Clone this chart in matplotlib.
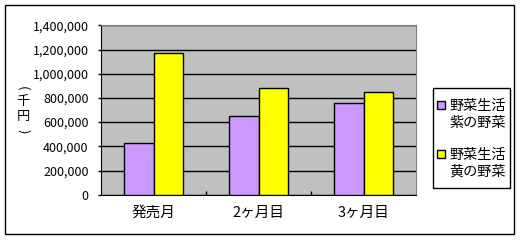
import matplotlib
matplotlib.use("Agg")
import matplotlib.pyplot as plt
import numpy as np
from matplotlib.patches import Rectangle

plt.rcParams['font.family'] = ['Noto Sans CJK JP', 'DejaVu Sans']

# Chart data
categories = ['発売月', '2ヶ月目', '3ヶ月目']
series_names = ['野菜生活\n紫の野菜', '野菜生活\n黄の野菜']
purple_values = [430000, 650000, 755000]
yellow_values = [1170000, 880000, 850000]
y_ticks = [0, 200000, 400000, 600000, 800000, 1000000, 1200000, 1400000]

colors = ['#CC99FF', '#FFFF00']

W, H = 521, 240
fig = plt.figure(figsize=(W / 100, H / 100), dpi=100)

# Outer chart border
fig.patches.append(Rectangle((5 / W, 1 - 234 / H), 509 / W, 229 / H,
                             transform=fig.transFigure, fill=False,
                             edgecolor='black', linewidth=1))

# Plot area in pixel coordinates
left, right, top, bottom = 101, 416, 25.3, 194.7
ax = fig.add_axes([left / W, 1 - bottom / H, (right - left) / W, (bottom - top) / H])
ax.set_facecolor('#C0C0C0')

x = np.arange(len(categories))
bw = 0.2857
ax.bar(x - bw / 2, purple_values, bw, color=colors[0], edgecolor='black', linewidth=1, zorder=3)
ax.bar(x + bw / 2, yellow_values, bw, color=colors[1], edgecolor='black', linewidth=1, zorder=3)

ax.set_xlim(-0.5, 2.5)
ax.set_ylim(0, 1400000)
ax.set_yticks(y_ticks)
ax.set_yticklabels([f'{v:,}' for v in y_ticks], fontsize=9)
ax.yaxis.grid(True, color='black', linewidth=1)
ax.set_axisbelow(True)

# category labels centred, ticks between categories
ax.set_xticks(x)
ax.set_xticklabels(categories, fontsize=10.5)
ax.tick_params(axis='x', which='major', length=0, pad=8)
ax.set_xticks([0.5, 1.5], minor=True)
ax.tick_params(axis='x', which='minor', direction='in', length=3, width=1)
ax.tick_params(axis='y', length=2, width=1, pad=7)

for side in ['top', 'right']:
    ax.spines[side].set_color('#808080')
for side in ['left', 'bottom']:
    ax.spines[side].set_color('black')

# Vertical y-axis title: (千円) written top to bottom
fig.text(23 / W, 1 - 88 / H, '(', ha='center', va='center', fontsize=9.5, rotation=-90)
fig.text(23 / W, 1 - 101 / H, '千', ha='center', va='center', fontsize=9.5)
fig.text(23 / W, 1 - 116 / H, '円', ha='center', va='center', fontsize=9.5)
fig.text(23 / W, 1 - 131 / H, ')', ha='center', va='center', fontsize=9.5, rotation=-90)

# Legend drawn by hand to match the box layout
lx0, ly0, lx1, ly1 = 433, 88, 510, 188
fig.patches.append(Rectangle((lx0 / W, 1 - ly1 / H), (lx1 - lx0) / W, (ly1 - ly0) / H,
                             transform=fig.transFigure, fill=False,
                             edgecolor='black', linewidth=1))
row_tops = [101, 150]
for name, c, ty in zip(series_names, colors, row_tops):
    fig.patches.append(Rectangle((437 / W, 1 - (ty + 8) / H), 8 / W, 8 / H,
                                 transform=fig.transFigure, facecolor=c,
                                 edgecolor='black', linewidth=1))
    fig.text(449 / W, 1 - (ty - 2) / H, name, ha='left', va='top',
             fontsize=10.2, linespacing=1.25)

fig.savefig('out.png', dpi=100)
